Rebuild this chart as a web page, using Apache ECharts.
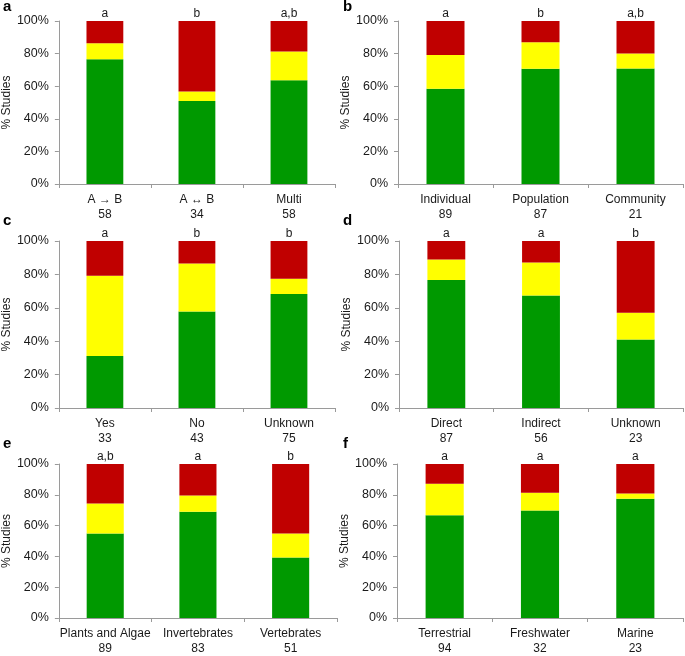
<!DOCTYPE html>
<html>
<head>
<meta charset="utf-8">
<script src="https://cdn.jsdelivr.net/npm/echarts@6/dist/echarts.min.js"></script>
<style>
  html, body { margin: 0; padding: 0; background: #fff; }
  #chart { width: 685px; height: 656px; }
</style>
</head>
<body>
<div id="chart"></div>
<script>
// one entry per panel, a..f
const panelTags = ['a', 'b', 'c', 'd', 'e', 'f'];
const categories = [
  ['A \u2192 B', 'A \u2194 B', 'Multi'],
  ['Individual', 'Population', 'Community'],
  ['Yes', 'No', 'Unknown'],
  ['Direct', 'Indirect', 'Unknown'],
  ['Plants and Algae', 'Invertebrates', 'Vertebrates'],
  ['Terrestrial', 'Freshwater', 'Marine'],
];
const counts = [
  [58, 34, 58],
  [89, 87, 21],
  [33, 43, 75],
  [87, 56, 23],
  [89, 83, 51],
  [94, 32, 23],
];
const letters = [
  ['a', 'b', 'a,b'],
  ['a', 'b', 'a,b'],
  ['a', 'b', 'b'],
  ['a', 'a', 'b'],
  ['a,b', 'a', 'b'],
  ['a', 'a', 'a'],
];
// % of studies in each class (segments, bottom to top)
const greenVals = [
  [76.6, 50.9, 63.7],
  [58.4, 70.7, 70.9],
  [31.1, 57.8, 68.3],
  [76.6, 67.3, 41.0],
  [54.9, 69.0, 39.3],
  [66.7, 69.8, 77.4],
];
const yellowVals = [
  [9.8, 5.8, 17.6],
  [20.7, 16.2, 9.2],
  [48.1, 28.7, 9.1],
  [12.3, 19.8, 16.0],
  [19.5, 10.6, 15.5],
  [20.4, 11.6, 3.4],
];
const redVals = [
  [13.6, 43.3, 18.7],
  [20.9, 13.1, 19.9],
  [20.8, 13.5, 22.6],
  [11.1, 12.9, 43.0],
  [25.6, 20.4, 45.2],
  [12.9, 18.6, 19.2],
];

const grids = [
  { left: 55, top: 21, width: 280, height: 163 },
  { left: 398, top: 21, width: 285, height: 163 },
  { left: 55, top: 241, width: 280, height: 167 },
  { left: 399, top: 241, width: 284, height: 167 },
  { left: 58, top: 464, width: 279, height: 157 },
  { left: 397, top: 464, width: 286, height: 157 },
];
const tagPos = [[3, 7], [343, 7], [3, 221], [343, 221], [3, 444], [343, 444]];

const font = 'Liberation Sans, Arial, sans-serif';
const textColor = '#1a1a1a';
const axisColor = '#9a9a9a';

const xAxis = [];
const yAxis = [];
const series = [];
const graphic = [];

grids.forEach((g, i) => {
  xAxis.push({
    type: 'category',
    gridIndex: i,
    data: categories[i].map((c, j) => c + '\n' + counts[i][j]),
    axisLine: { lineStyle: { color: axisColor, width: 1 } },
    axisTick: { show: true, length: 4, lineStyle: { color: axisColor } },
    axisLabel: {
      color: textColor,
      fontFamily: font,
      fontSize: 12,
      lineHeight: 15,
      margin: 8,
      interval: 0,
    },
  });
  yAxis.push({
    type: 'value',
    gridIndex: i,
    min: 0,
    max: 100,
    interval: 20,
    name: '% Studies',
    nameLocation: 'middle',
    nameGap: 38,
    nameTextStyle: { color: textColor, fontFamily: font, fontSize: 12 },
    axisLine: { show: true, lineStyle: { color: axisColor, width: 1 } },
    axisTick: { show: true, length: 4, lineStyle: { color: axisColor } },
    splitLine: { show: false },
    axisLabel: {
      color: textColor,
      fontFamily: font,
      fontSize: 12.5,
      margin: 10,
      formatter: '{value}%',
    },
  });
  const common = {
    type: 'bar',
    xAxisIndex: i,
    yAxisIndex: i,
    stack: 'p' + i,
    barWidth: '40%',
    animation: false,
  };
  series.push({ ...common, name: 'green', data: greenVals[i], itemStyle: { color: '#009900' } });
  series.push({ ...common, name: 'yellow', data: yellowVals[i], itemStyle: { color: '#ffff00' } });
  series.push({
    ...common,
    name: 'red',
    data: redVals[i],
    itemStyle: { color: '#c00000' },
    label: {
      show: true,
      position: 'top',
      distance: 1,
      color: textColor,
      fontFamily: font,
      fontSize: 12,
      formatter: (p) => letters[i][p.dataIndex],
    },
  });
  graphic.push({
    type: 'text',
    x: tagPos[i][0],
    y: tagPos[i][1],
    style: {
      text: panelTags[i],
      font: 'bold 15px ' + font,
      fill: '#000',
      verticalAlign: 'middle',
    },
  });
});

const chart = echarts.init(document.getElementById('chart'));
chart.setOption({
  backgroundColor: '#fff',
  animation: false,
  grid: grids,
  xAxis,
  yAxis,
  series,
  graphic,
});
</script>
</body>
</html>
